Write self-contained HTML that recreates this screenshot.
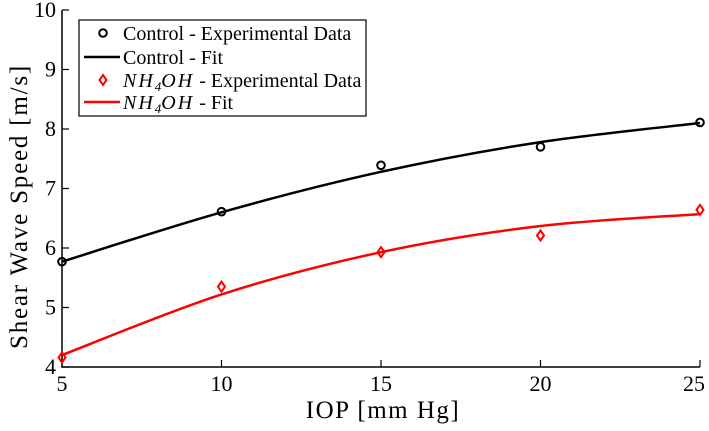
<!DOCTYPE html>
<html><head><meta charset="utf-8"><style>
body{margin:0;background:#fff}
svg text{font-family:"Liberation Serif",serif;fill:#000}
</style></head><body>
<svg width="709" height="426">
<g id="g"></g>
</svg>
<script>
const xVals=[5,10,15,20,25];
const controlData=[5.77,6.61,7.39,7.70,8.11];
const controlFit=[5.77,6.60,7.28,7.78,8.10];
const nhData=[4.16,5.35,5.93,6.21,6.64];
const nhFit=[4.20,5.22,5.93,6.37,6.57];
const xTicks=[5,10,15,20,25];
const yTicks=[4,5,6,7,8,9,10];
const X0=62,X1=700,Y0=367,Y1=10;
const sx=v=>X0+(v-5)/20*(X1-X0);
const sy=v=>Y0-(v-4)/6*(Y0-Y1);
const NS='http://www.w3.org/2000/svg';
const g=document.getElementById('g');
function mk(t,a,txt){const e=document.createElementNS(NS,t);for(const k in a)e.setAttribute(k,a[k]);if(txt!=null)e.textContent=txt;g.appendChild(e);return e;}
let e;
e=mk('path',{d:`M${X0},${Y1}V${Y0}H${X1}`,stroke:'#000','stroke-width':1.5,fill:'none'});


xTicks.forEach(t=>{
 e=mk('line',{x1:sx(t),x2:sx(t),y1:Y0,y2:Y0-7,stroke:'#000','stroke-width':1.2});
 
 
 e=mk('text',{x:Math.min(sx(t),694),y:Y0+24,'text-anchor':'middle','font-size':22},t);
 
 
});
yTicks.forEach(t=>{
 e=mk('line',{x1:X0,x2:X0+7,y1:sy(t),y2:sy(t),stroke:'#000','stroke-width':1.2});
 
 
 e=mk('text',{x:X0-6,y:sy(t)+7,'text-anchor':'end','font-size':22},t);
 
 
});
e=mk('text',{x:(X0+X1)/2+2,y:418,'text-anchor':'middle','font-size':25,'letter-spacing':1.5},'IOP [mm Hg]');


e=mk('text',{x:0,y:0,'text-anchor':'middle','font-size':25,'letter-spacing':1.8,transform:`translate(27,${(Y0+Y1)/2+18}) rotate(-90)`},'Shear Wave Speed [m/s]');


function fitPath(vals){
 const p=xVals.map((x,i)=>[sx(x),sy(vals[i])]);
 let d=`M${p[0][0]},${p[0][1]}`;
 for(let i=0;i<p.length-1;i++){
  const p0=p[Math.max(0,i-1)],p1=p[i],p2=p[i+1],p3=p[Math.min(p.length-1,i+2)];
  const c1=[p1[0]+(p2[0]-p0[0])/6,p1[1]+(p2[1]-p0[1])/6];
  const c2=[p2[0]-(p3[0]-p1[0])/6,p2[1]-(p3[1]-p1[1])/6];
  d+=`C${c1[0]},${c1[1]} ${c2[0]},${c2[1]} ${p2[0]},${p2[1]}`;
 }
 return d;
}
e=mk('path',{d:fitPath(controlFit),stroke:'#000','stroke-width':2.5,fill:'none'});


e=mk('path',{d:fitPath(nhFit),stroke:'#f00','stroke-width':2.5,fill:'none'});


xVals.forEach((x,i)=>{
 e=mk('circle',{cx:sx(x),cy:sy(controlData[i]),r:3.8,stroke:'#000','stroke-width':2,fill:'none'});
 
 
 const cx=sx(x),cy=sy(nhData[i]);
 e=mk('path',{d:`M${cx},${cy-5}L${cx+3.5},${cy}L${cx},${cy+5}L${cx-3.5},${cy}Z`,stroke:'#f00','stroke-width':2,fill:'none'});
 
 
});
// legend
e=mk('rect',{x:79,y:20,width:287,height:96,fill:'#fff',stroke:'#000','stroke-width':1.2});


e=mk('circle',{cx:103,cy:33,r:3.8,stroke:'#000','stroke-width':2,fill:'none'});


e=mk('line',{x1:84,x2:120,y1:57,y2:57,stroke:'#000','stroke-width':2.5});


e=mk('path',{d:'M103,75L106.5,80L103,85L99.5,80Z',stroke:'#f00','stroke-width':2,fill:'none'});


e=mk('line',{x1:84,x2:120,y1:102,y2:102,stroke:'#f00','stroke-width':2.5});


e=mk('text',{x:123,y:40,'font-size':20},'Control - Experimental Data');


e=mk('text',{x:123,y:64,'font-size':20},'Control - Fit');


e=mk('text',{x:123,y:87,'font-size':20});
e.innerHTML='<tspan font-style="italic" letter-spacing="2">NH</tspan><tspan font-size="13" dy="4" font-style="italic">4</tspan><tspan dy="-4" font-style="italic" letter-spacing="2">OH</tspan> - Experimental Data';


e=mk('text',{x:123,y:109,'font-size':20});
e.innerHTML='<tspan font-style="italic" letter-spacing="2">NH</tspan><tspan font-size="13" dy="4" font-style="italic">4</tspan><tspan dy="-4" font-style="italic" letter-spacing="2">OH</tspan> - Fit';


</script>
</body></html>
